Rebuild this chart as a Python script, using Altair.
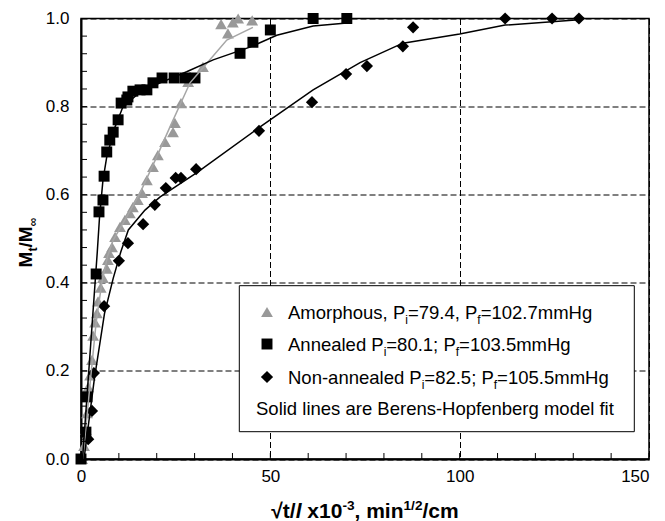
import altair as alt
import pandas as pd

# ---------------- data ----------------
amor_x = [0.3, 0.8, 1.3, 1.6, 1.9, 2.4, 2.9, 3.2, 3.7, 4.2, 4.5, 5.2, 5.8, 6.8, 7.1, 7.4, 8.2,
          9.0, 10.3, 11.6, 12.9, 13.7, 15.0, 16.1, 17.4, 19.0, 20.3, 22.2, 24.3, 24.8, 26.4,
          28.3, 32.2, 37.0, 38.8, 40.1, 41.5, 45.2]
amor_y = [0.0, 0.03, 0.066, 0.104, 0.163, 0.19, 0.225, 0.28, 0.31, 0.331, 0.358, 0.389, 0.411,
          0.432, 0.452, 0.468, 0.481, 0.504, 0.527, 0.543, 0.558, 0.572, 0.588, 0.604, 0.633,
          0.663, 0.69, 0.72, 0.742, 0.763, 0.808, 0.856, 0.89, 0.987, 0.966, 0.991, 1.0, 0.996]

ann_x = [0.0, 1.3, 1.6, 4.0, 4.75, 5.8, 6.1, 6.8, 7.6, 8.5, 9.8, 10.6, 12.1, 12.4, 13.7, 15.6,
         17.4, 19.0, 21.4, 24.6, 27.5, 30.1, 42.0, 45.4, 50.0, 61.3, 70.2]
ann_y = [0.0, 0.061, 0.141, 0.42, 0.561, 0.588, 0.642, 0.697, 0.724, 0.742, 0.77, 0.808, 0.815,
         0.822, 0.835, 0.838, 0.838, 0.854, 0.865, 0.865, 0.865, 0.865, 0.921, 0.946, 0.974,
         1.0, 1.0]

na_x = [1.9, 2.9, 3.4, 6.1, 10.0, 12.4, 16.4, 19.5, 22.4, 25.0, 26.4, 30.4, 47.0, 61.0, 70.0,
        75.5, 85.0, 87.7, 112.0, 124.4, 131.5]
na_y = [0.045, 0.109, 0.195, 0.347, 0.45, 0.49, 0.533, 0.577, 0.615, 0.638, 0.638, 0.658,
        0.745, 0.81, 0.874, 0.892, 0.937, 0.98, 1.0, 1.0, 1.0]

# Berens-Hopfenberg fit curves
fit_amor_x = [0.5, 2.5, 4.0, 5.5, 7.0, 8.5, 12.1, 15.6, 20.0, 23.5, 28.8, 33.3, 38.5, 45.4]
fit_amor_y = [0.0, 0.18, 0.31, 0.40, 0.46, 0.497, 0.55, 0.604, 0.686, 0.754, 0.854, 0.899,
              0.951, 0.98]
fit_ann_x = [0.4, 4.3, 4.9, 5.8, 6.8, 9.0, 11.1, 15.6, 20.9, 27.9, 34.9, 44.6, 51.7, 61.3, 70.2]
fit_ann_y = [0.0, 0.47, 0.55, 0.633, 0.686, 0.754, 0.80, 0.833, 0.854, 0.879, 0.906, 0.935,
             0.962, 0.983, 0.99]
fit_na_x = [0.8, 3.5, 6.2, 8.5, 10.5, 12.5, 16.9, 20.9, 30.6, 47.3, 61.3, 73.7, 85.0, 100.0,
            112.0, 131.5]
fit_na_y = [0.0, 0.18, 0.33, 0.41, 0.47, 0.52, 0.565, 0.595, 0.65, 0.754, 0.838, 0.90, 0.944,
            0.965, 0.985, 0.997]

x_tick_labels = [0, 50, 100, 150]
y_tick_labels = [0.0, 0.2, 0.4, 0.6, 0.8, 1.0]
x_minor = [0, 10, 20, 30, 40, 50, 60, 70, 80, 90, 100, 110, 120, 130, 140, 150]
y_minor = [0.04, 0.08, 0.12, 0.16, 0.2, 0.24, 0.28, 0.32, 0.36, 0.4, 0.44, 0.48, 0.52, 0.56,
           0.6, 0.64, 0.68, 0.72, 0.76, 0.8, 0.84, 0.88, 0.92, 0.96]

legend_rows = [
    [("Amorphous, P", "n"), ("i", "sub"), ("=79.4, P", "n"), ("f", "sub"), ("=102.7mmHg", "n")],
    [("Annealed P", "n"), ("i", "sub"), ("=80.1; P", "n"), ("f", "sub"), ("=103.5mmHg", "n")],
    [("Non-annealed P", "n"), ("i", "sub"), ("=82.5; P", "n"), ("f", "sub"), ("=105.5mmHg", "n")],
    [("Solid lines are Berens-Hopfenberg model fit", "n")],
]
x_title_segs = [("√t/", "n"), ("l", "i"), (" x10", "n"), ("-3", "sup"), (", min", "n"),
                ("1/2", "sup"), ("/cm", "n")]
y_title_segs = [("M", "n"), ("t", "sub"), ("/M", "n"), ("∞", "sub")]

# ---------------- layout ----------------
W, H = 568, 440.5
FONT = "Liberation Sans"
GRAY = "#999999"
ONE = pd.DataFrame({"k": [0]})

REG = {' ': 278, ',': 278, '.': 278, ';': 278, '=': 584, '-': 333, 'A': 667, 'H': 722,
       'N': 722, 'P': 667, 'S': 667, 'B': 667, 'a': 556, 'b': 556, 'd': 556, 'e': 556,
       'f': 278, 'g': 556, 'h': 556, 'i': 222, 'l': 222, 'm': 833, 'n': 556, 'o': 556,
       'p': 556, 'r': 333, 's': 500, 't': 278, 'u': 556}
BOLD = {' ': 278, ',': 278, '/': 278, '-': 333, 'M': 833, 'c': 556, 'i': 278,
        'l': 278, 'm': 889, 'n': 611, 't': 333, 'x': 556, '√': 549, '∞': 713}


def tw(s, size, table):
    return sum(table.get(c, 556) for c in s) * size / 1000.0


def seg_width(segs, size, bold):
    table = BOLD if bold else REG
    tot = 0
    for t, k in segs:
        fs = size * 0.65 if k in ("sub", "sup") else size
        tot += tw(t, fs, table)
    return tot


def segments(segs, x, y, size, bold, angle=0):
    table = BOLD if bold else REG
    out = []
    off = 0.0
    for t, k in segs:
        fs = size * 0.65 if k in ("sub", "sup") else size
        dy = 0.0
        if k == "sub":
            dy = 0.28 * size
        elif k == "sup":
            dy = -0.38 * size
        lead = len(t) - len(t.lstrip(" "))
        off += tw(" " * lead, fs, table)
        body = t.strip(" ")
        out.append(
            alt.Chart(ONE).mark_text(
                text=body, align="left", baseline="alphabetic", font=FONT, fontSize=fs,
                fontWeight="bold" if bold else "normal",
                fontStyle="italic" if k == "i" else "normal",
                dx=off, dy=dy, angle=angle, color="black",
            ).encode(x=alt.value(x), y=alt.value(y))
        )
        off += tw(t.lstrip(" "), fs, table)
    return out


xs = alt.Scale(domain=[0, 150], nice=False, zero=False)
ys = alt.Scale(domain=[0, 1], nice=False, zero=False)

axis_common = dict(grid=True, gridColor="black", gridDash=[6, 3], gridWidth=1, ticks=False,
                   domain=True, domainColor="black", domainWidth=2, labelFont=FONT,
                   labelFontSize=17, labelColor="black", title=None, labelFlush=False)
XAX = alt.Axis(values=x_tick_labels, labelPadding=9,
               labelAlign={"condition": {"test": "datum.value >= 150", "value": "right"},
                           "value": "center"},
               **axis_common)
YAX = alt.Axis(values=y_tick_labels, format=".1f", labelPadding=12, **axis_common)


def X(f):
    return alt.X(f, scale=xs, axis=XAX, title=None)


def Y(f):
    return alt.Y(f, scale=ys, axis=YAX, title=None)


df_amor = pd.DataFrame({"x": amor_x, "y": amor_y})
df_ann = pd.DataFrame({"x": ann_x, "y": ann_y})
df_na = pd.DataFrame({"x": na_x, "y": na_y})

amor = alt.Chart(df_amor).mark_point(shape="triangle-up", filled=True, size=140, color=GRAY,
                                     opacity=1).encode(x=X("x:Q"), y=Y("y:Q"))
ann = alt.Chart(df_ann).mark_point(shape="square", filled=True, size=120, color="black",
                                   opacity=1).encode(x=X("x:Q"), y=Y("y:Q"))
na = alt.Chart(df_na).mark_point(shape="diamond", filled=True, size=150, color="black",
                                 opacity=1).encode(x=X("x:Q"), y=Y("y:Q"))


def fit(xv, yv, color):
    return alt.Chart(pd.DataFrame({"x": xv, "y": yv})).mark_line(
        color=color, strokeWidth=1.5).encode(x=X("x:Q"), y=Y("y:Q"))


fits = [fit(fit_amor_x, fit_amor_y, "#a6a6a6"), fit(fit_ann_x, fit_ann_y, "black"),
        fit(fit_na_x, fit_na_y, "black")]

xticks = alt.Chart(pd.DataFrame({"x": x_minor})).mark_rule(color="black", strokeWidth=1).encode(
    x=X("x:Q"), y=alt.value(H), y2=alt.value(H - 6))
yticks = alt.Chart(pd.DataFrame({"y": y_minor})).mark_rule(color="black", strokeWidth=1).encode(
    y=Y("y:Q"), x=alt.value(0), x2=alt.value(6))

# legend box
LX1, LX2, LY1, LY2 = 158.3, 553.3, 267.2, 413.2
box = alt.Chart(ONE).mark_rect(fill="white", stroke="black", strokeWidth=1).encode(
    x=alt.value(LX1), x2=alt.value(LX2), y=alt.value(LY1), y2=alt.value(LY2))

LF = 18.5
row_centers = [293.5, 325.5, 358.5, 389.5]
sym_x = 186
sym_specs = [("triangle-up", GRAY, 140), ("square", "black", 120), ("diamond", "black", 150)]
leg_layers = [box]
for (shape, col, sz), cy in zip(sym_specs, row_centers[:3]):
    leg_layers.append(alt.Chart(ONE).mark_point(shape=shape, filled=True, size=sz, color=col,
                                                opacity=1).encode(x=alt.value(sym_x),
                                                                  y=alt.value(cy)))
for i, row in enumerate(legend_rows):
    x0 = 207 if i < 3 else 175
    leg_layers += segments(row, x0, row_centers[i] + 0.36 * LF, LF, False)

# axis titles
XT = 21
xw = seg_width(x_title_segs, XT, True)
xtitle = segments(x_title_segs, W / 2 - xw / 2, 499.5, XT, True)
YT = 19
yw = seg_width(y_title_segs, YT, True)
ytitle = segments(y_title_segs, -49, 224 + yw / 2, YT, True, angle=270)

chart = alt.layer(
    amor, ann, na, *fits, xticks, yticks, *leg_layers, *xtitle, *ytitle
).properties(
    width=W, height=H,
    autosize=alt.AutoSizeParams(type="none"),
    padding={"left": 73, "top": 10.5, "right": 8, "bottom": 62},
).configure_view(stroke="black", strokeWidth=1.5)

chart.save("out.html", embed_options={"renderer": "svg", "actions": False})
